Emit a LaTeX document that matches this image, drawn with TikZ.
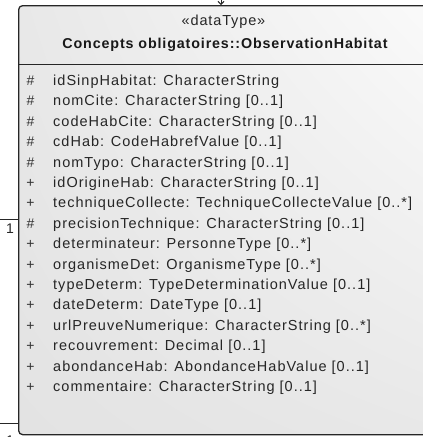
\documentclass[tikz,border=0pt]{standalone}
\usepackage{fontspec}
\setmainfont{Liberation Sans}[LetterSpace=6.0]
\newfontfamily\attrfont{Liberation Sans}[LetterSpace=7.0]
\usetikzlibrary{shadings,arrows.meta}
\begin{document}
\begin{tikzpicture}[x=1pt,y=-1pt,
  attr/.style={anchor=west,inner sep=0pt,text height=10pt,text depth=3pt,font=\attrfont\fontsize{14.5}{16}\selectfont,text=black!85},
  vis/.style={anchor=center,inner sep=0pt,text height=10pt,text depth=3pt,font=\fontsize{14}{16}\selectfont,text=black!80},
  mult/.style={inner sep=0pt,font=\fontsize{14}{16}\selectfont,text=black!85},
  umlbox/.style={draw=black!85,line width=1.3pt,rounded corners=4pt,anchor=north west,inner sep=0pt,
    upper left=black!9,upper right=black!2,lower left=black!11,lower right=black!9},
  conn/.style={draw=black!85,line width=1pt}
]
\useasboundingbox (0,0) rectangle (423,437);
\node[umlbox,shade,minimum width=412pt,minimum height=429pt] (box) at (18,5) {};
\draw[black!85,line width=1pt] (box.west |- 0,64) -- (box.east |- 0,64);
\node[font=\fontsize{14.5}{16}\selectfont,text=black!85] (st) at (223.5,22) {«dataType»};
\node[font=\bfseries\fontsize{14.3}{16}\selectfont,text=black!90] (nm) at (225,45) {Concepts obligatoires::ObservationHabitat};
% attributes
\foreach \i/\v/\t in {0/\#/{idSinpHabitat: CharacterString},
  1/\#/{nomCite: CharacterString [0..1]},
  2/\#/{codeHabCite: CharacterString [0..1]},
  3/\#/{cdHab: CodeHabrefValue [0..1]},
  4/\#/{nomTypo: CharacterString [0..1]},
  5/+/{idOrigineHab: CharacterString [0..1]},
  6/+/{techniqueCollecte: TechniqueCollecteValue [0..*]},
  7/\#/{precisionTechnique: CharacterString [0..1]},
  8/+/{determinateur: PersonneType [0..*]},
  9/+/{organismeDet: OrganismeType [0..*]},
  10/+/{typeDeterm: TypeDeterminationValue [0..1]},
  11/+/{dateDeterm: DateType [0..1]},
  12/+/{urlPreuveNumerique: CharacterString [0..*]},
  13/+/{recouvrement: Decimal [0..1]},
  14/+/{abondanceHab: AbondanceHabValue [0..1]},
  15/+/{commentaire: CharacterString [0..1]}} {
  \node[vis] (v\i) at (30.5,{82+20.4*\i}) {\v};
  \node[attr] (a\i) at (53,{82+20.4*\i}) {\t};
}
% connectors
\coordinate (tin) at (221,-2);
\draw[conn,-{Straight Barb[length=3pt,width=6pt]}] (tin) -- (tin |- box.north);
\coordinate (l1) at (0,219);
\draw[conn] (l1) -- (l1 -| box.west);
\node[mult] (m1) at (10,229) {1};
\coordinate (l2) at (0,423);
\draw[conn] (l2) -- (l2 -| box.west);
\node[mult] (m2) at (10,441) {1};
\end{tikzpicture}
\end{document}
